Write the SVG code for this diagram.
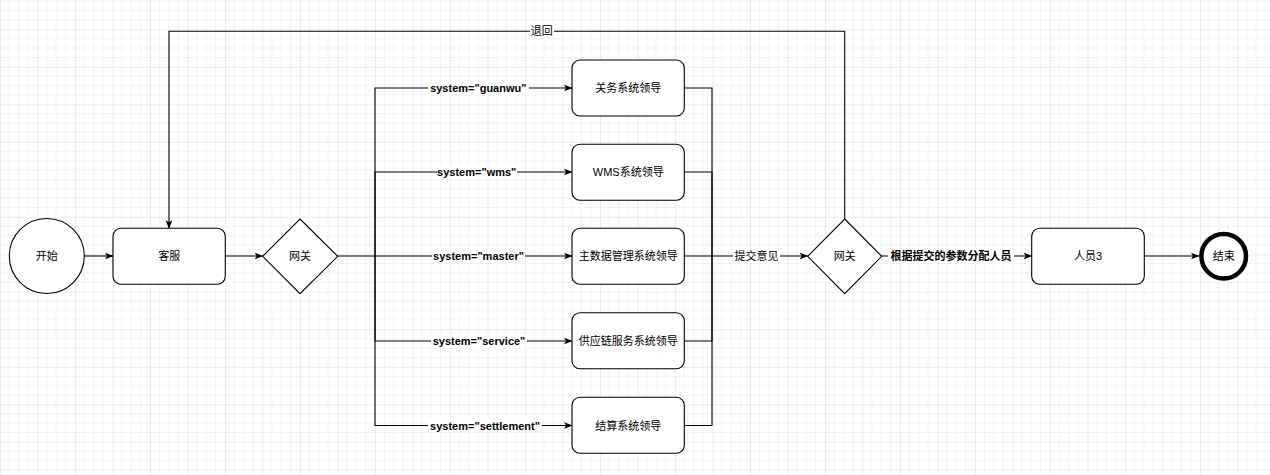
<svg xmlns="http://www.w3.org/2000/svg" width="1270" height="475" viewBox="0 0 1270 475">
<defs>
<pattern id="grid" patternUnits="userSpaceOnUse" x="0" y="29.3" width="37.5" height="37.5">
<path d="M9.375,0V37.5M18.75,0V37.5M28.125,0V37.5M0,9.375H37.5M0,18.75H37.5M0,28.125H37.5" stroke="#f2f2f2" stroke-width="1" fill="none"/>
<path d="M0,0V37.5M0,0H37.5" stroke="#dadada" stroke-width="1" fill="none"/>
</pattern>
<marker id="arr" markerUnits="userSpaceOnUse" viewBox="0 0 10 10" refX="9.5" refY="5" markerWidth="8.5" markerHeight="8.5" orient="auto">
<path d="M0,1 L10,5 L0,9 L2.5,5 z" fill="#000"/>
</marker>
<style>
.n{fill:#fff;stroke:#000;stroke-width:1.1}
.t{font-family:"Liberation Sans","Noto Sans CJK SC",sans-serif;font-size:11px;fill:#000;text-anchor:middle;dominant-baseline:central}
.b{font-weight:bold}
.e{fill:none;stroke:#000;stroke-width:1.1}
.lb{fill:#fff}
</style>
</defs>
<rect width="1270" height="475" fill="#fff"/>
<rect width="1270" height="475" fill="url(#grid)"/>

<g id="connectors">
<path class="e" d="M84.3,256H113" marker-end="url(#arr)"/>
<path class="e" d="M225.3,256H262.7" marker-end="url(#arr)"/>
<path class="e" d="M337.7,256H375V88H572" marker-end="url(#arr)"/>
<path class="e" d="M375,256V172H572" marker-end="url(#arr)"/>
<path class="e" d="M375,256H572" marker-end="url(#arr)"/>
<path class="e" d="M375,256V341H572" marker-end="url(#arr)"/>
<path class="e" d="M375,256V425.5H572" marker-end="url(#arr)"/>
<path class="e" d="M684.3,88H712V256"/>
<path class="e" d="M684.3,172H712V256"/>
<path class="e" d="M684.3,341H712V256"/>
<path class="e" d="M684.3,425.5H712V256"/>
<path class="e" d="M684.3,256H807.7" marker-end="url(#arr)"/>
<path class="e" d="M881.7,256H1031.7" marker-end="url(#arr)"/>
<path class="e" d="M1144.3,256H1199" marker-end="url(#arr)"/>
<path class="e" d="M844.7,219V31.3H169V228.3" marker-end="url(#arr)"/>
<rect class="lb" x="428" y="81" width="101" height="14"/>
<text class="t b" x="478.3" y="88">system="guanwu"</text>
<rect class="lb" x="437" y="165" width="80" height="14"/>
<text class="t b" x="476.7" y="172">system="wms"</text>
<rect class="lb" x="432" y="249" width="93" height="14"/>
<text class="t b" x="478.5" y="256">system="master"</text>
<rect class="lb" x="431" y="334" width="96" height="14"/>
<text class="t b" x="479" y="341">system="service"</text>
<rect class="lb" x="428" y="418" width="114" height="14"/>
<text class="t b" x="485" y="425.5">system="settlement"</text>
<rect class="lb" x="733" y="249" width="47" height="14"/>
<text class="t" x="756.5" y="256">提交意见</text>
<rect class="lb" x="888" y="249" width="126" height="14"/>
<text class="t b" x="951" y="256">根据提交的参数分配人员</text>
<rect class="lb" x="530" y="24" width="24" height="14"/>
<text class="t" x="541.7" y="31.3">退回</text>
</g>

<g id="start"><circle class="n" cx="46.8" cy="256" r="37.5"/><text class="t" x="46.8" y="256">开始</text></g>
<g id="kefu"><rect class="n" x="113" y="228.3" width="112.3" height="56" rx="8"/><text class="t" x="169.2" y="256">客服</text></g>
<g id="gw1"><path class="n" d="M300,219L337.7,256.3L300,293.7L262.7,256.3Z"/><text class="t" x="300" y="256">网关</text></g>
<g id="b1"><rect class="n" x="572" y="60" width="112.3" height="56" rx="8"/><text class="t" x="628.2" y="88">关务系统领导</text></g>
<g id="b2"><rect class="n" x="572" y="144.3" width="112.3" height="56" rx="8"/><text class="t" x="628.2" y="172">WMS系统领导</text></g>
<g id="b3"><rect class="n" x="572" y="228.3" width="112.3" height="56" rx="8"/><text class="t" x="628.2" y="256">主数据管理系统领导</text></g>
<g id="b4"><rect class="n" x="572" y="312.7" width="112.3" height="56" rx="8"/><text class="t" x="628.2" y="341">供应链服务系统领导</text></g>
<g id="b5"><rect class="n" x="572" y="397.3" width="112.3" height="56" rx="8"/><text class="t" x="628.2" y="425.5">结算系统领导</text></g>
<g id="gw2"><path class="n" d="M844.7,219L881.7,256.3L844.7,293.7L807.7,256.3Z"/><text class="t" x="844.7" y="256">网关</text></g>
<g id="p3"><rect class="n" x="1031.7" y="228.3" width="112.6" height="56" rx="8"/><text class="t" x="1088" y="256">人员3</text></g>
<g id="end"><circle cx="1223.7" cy="256.2" r="22.3" fill="#fff" stroke="#000" stroke-width="4.5"/><text class="t" x="1223.7" y="256">结束</text></g>
</svg>
